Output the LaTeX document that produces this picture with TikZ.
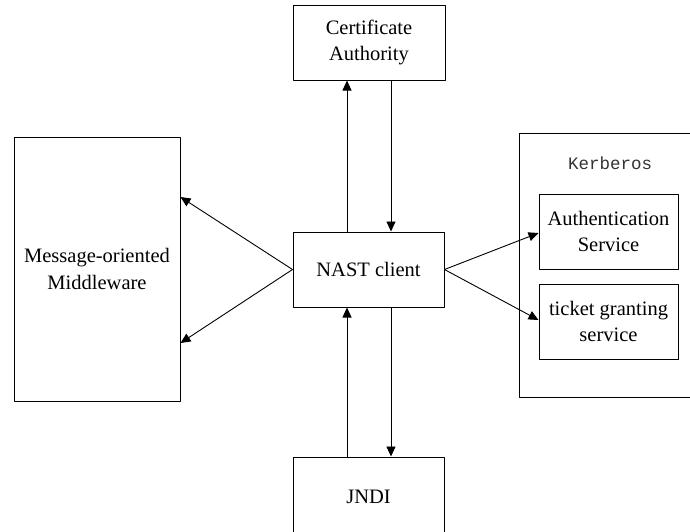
\documentclass[tikz,border=0pt]{standalone}
\usepackage{fontspec}
\setmainfont{Liberation Serif}
\newfontfamily\kerbfont{Liberation Mono}
\usetikzlibrary{arrows.meta}
\tikzset{
  box/.style={draw, line width=1pt, align=center, inner sep=0pt},
  link/.style={line width=0.9pt, -{Triangle[length=10pt,width=9pt]}},
}
\begin{document}
\begin{tikzpicture}[x=1pt, y=-1pt, font=\fontsize{20.5}{26.5}\selectfont, line join=round]
  \useasboundingbox (0,0) rectangle (690,531);
  % boxes
  \node[box, minimum width=152pt, minimum height=75pt] (ca) at (369,42.5) {Certificate\\Authority};
  \node[box, minimum width=151pt, minimum height=75pt] (nast) at (368.5,269.5) {NAST client};
  \node[box, minimum width=151pt, minimum height=80pt] (jndi) at (368.5,497) {JNDI};
  \node[box, minimum width=166pt, minimum height=264pt] (mom) at (97,269) {Message-oriented\\Middleware};
  \node[box, minimum width=191pt, minimum height=264pt] (kerb) at (614.5,265) {};
  \node[font=\kerbfont\fontsize{17.5}{20}\selectfont, text=black!80] (kerblabel) at (610,163) {Kerberos};
  \node[box, minimum width=139pt, minimum height=75pt] (auth) at (608.5,231.5) {Authentication\\Service};
  \node[box, minimum width=139pt, minimum height=75pt] (tgs) at (608.5,321.5) {ticket granting\\service};
  % vertical links
  \draw[link] ([xshift=-21.5pt]nast.north) -- ([xshift=-21.5pt]nast.north |- ca.south);
  \draw[link] ([xshift=22.5pt]nast.north |- ca.south) -- ([xshift=22.5pt]nast.north);
  \draw[link] ([xshift=-21.5pt]nast.south |- jndi.north) -- ([xshift=-21.5pt]nast.south);
  \draw[link] ([xshift=22.5pt]nast.south) -- ([xshift=22.5pt]nast.south |- jndi.north);
  % side links
  \draw[link] (nast.west) -- (mom.east |- 0,197);
  \draw[link] (nast.west) -- (mom.east |- 0,343);
  \draw[link] (nast.east) -- (auth.west |- 0,233);
  \draw[link] (nast.east) -- (tgs.west |- 0,320);
\end{tikzpicture}
\end{document}
